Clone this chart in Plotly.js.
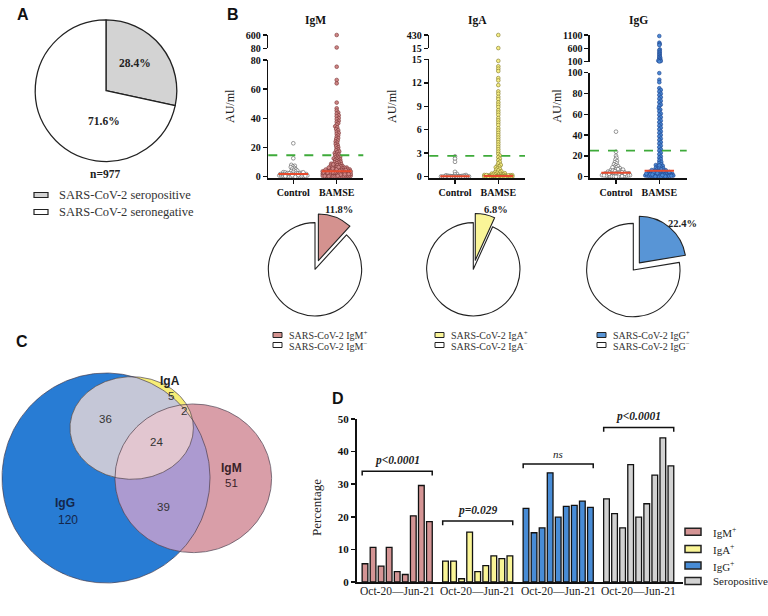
<!DOCTYPE html>
<html><head><meta charset="utf-8">
<script src="https://cdn.plot.ly/plotly-3.0.1.min.js"></script>
<style>html,body{margin:0;padding:0;background:#fff}#chart{width:768px;height:616px}</style>
</head><body><div id="chart"></div>
<script>
// ================= DATA =================
// Panel A
const seroLabels = ['SARS-CoV-2 seropositive', 'SARS-CoV-2 seronegative'];
const seroPct = [28.4, 71.6];
const seroN = 977;

// Panel B
const isotypes = ['IgM', 'IgA', 'IgG'];
const groups = ['Control', 'BAMSE'];
const posPct = [11.8, 6.8, 22.4];
const cutoffs = [14.7, 2.66, 25];
const igmMedian = [1.8, 3.7];
const igaMedian = [0.05, 0.1];
const iggMedian = [3.8, 5.8];

const igmControl = [22.9, 12.6, 8.1, 7.5, 7.0, 6.6, 6.0, 5.5, 5.1, 4.6, 4.2, 3.9, 3.6, 3.3, 3.1, 2.9, 2.7, 2.5, 2.4, 2.2, 2.1, 2.0, 1.9, 1.8, 1.7, 1.6, 1.5, 1.4, 1.3, 1.2, 1.1, 1.0, 0.9, 0.8, 0.8, 0.7, 0.6, 0.5, 0.4, 0.3, 0.3, 0.2, 0.1, 0.1, 0.0, 0.0, 2.3, 1.5, 1.1, 0.6, 3.0, 0.9, 1.8, 0.4];
const igmBamse = [600, 112, 75.4, 66.3, 64.0, 50.8, 46.9, 45.3, 44.0, 43.2, 42.1, 41.4, 40.2, 39.5, 38.3, 37.6, 36.6, 35.7, 34.5, 33.8, 32.6, 31.9, 30.8, 30.0, 29.3, 28.3, 27.4, 26.5, 25.8, 24.8, 24.1, 23.3, 22.4, 21.7, 20.9, 20.2, 19.4, 18.6, 18.1, 17.3, 16.9, 16.2, 15.6, 15.1, 14.8, 14.2, 13.7, 13.4, 13.0, 12.5, 12.2, 11.8, 11.4, 11.0, 10.6, 10.2, 9.9, 9.6, 9.2, 8.9, 8.6, 8.3, 8.0, 7.8, 7.5, 7.2, 7.0, 6.8, 6.5, 6.3, 6.1, 5.9, 5.7, 5.5, 5.3, 5.2, 5.0, 4.8, 4.7, 4.5, 4.4, 4.2, 4.1, 3.9, 3.8, 3.6, 3.5, 3.4, 3.2, 3.1, 3.0, 2.9, 2.8, 2.7, 2.6, 2.5, 2.4, 2.3, 2.2, 2.1, 2.0, 1.9, 1.8, 1.7, 1.6, 1.5, 1.4, 1.3, 1.2, 1.1, 1.0, 0.9, 0.8, 0.7, 0.6, 0.5, 0.4, 0.3, 0.2, 0.1, 6.2, 4.6, 3.3, 2.6, 1.9, 1.2, 0.8, 0.4, 5.1, 3.7, 2.9, 2.2, 1.5, 0.9, 0.3, 4.3, 3.0, 2.4, 1.7, 1.0, 0.6, 0.2, 7.1, 5.6, 4.0, 3.2, 2.0, 1.3, 0.7, 0.1, 8.4, 6.6, 4.9, 3.6, 2.7, 1.8, 1.1, 0.5, 0.0, 0.0, 3.4, 2.5, 1.6, 0.9, 0.3, 2.1, 1.4, 0.6];
const igaControl = [2.6, 2.3, 1.9, 0.62, 0.35, 0.28, 0.22, 0.18, 0.15, 0.12, 0.1, 0.09, 0.07, 0.06, 0.05, 0.05, 0.04, 0.03, 0.03, 0.02, 0.02, 0.01, 0.01, 0.01, 0, 0, 0, 0, 0, 0, 0, 0];
const igaBamse = [430, 22, 14.8, 14.1, 13.8, 13.5, 12.6, 12.3, 11.7, 10.9, 10.6, 10.2, 9.9, 9.5, 9.2, 8.9, 8.5, 8.2, 7.9, 7.5, 7.2, 6.9, 6.6, 6.2, 5.9, 5.6, 5.3, 5.0, 4.7, 4.4, 4.1, 3.8, 3.5, 3.2, 2.9, 2.7, 2.5, 2.3, 2.1, 1.9, 1.7, 1.5, 1.4, 1.3, 1.2, 1.1, 1.0, 0.9, 0.8, 0.7, 0.6, 0.55, 0.5, 0.45, 0.4, 0.36, 0.32, 0.3, 0.27, 0.25, 0.22, 0.2, 0.19, 0.17, 0.15, 0.14, 0.12, 0.11, 0.1, 0.1, 0.09, 0.08, 0.07, 0.06, 0.06, 0.05, 0.05, 0.04, 0.04, 0.03, 0.03, 0.02, 0.02, 0.01, 0.01, 0, 0, 0, 0, 0, 0, 0, 0, 0, 0, 0, 0, 0.13, 0.21, 0.08, 0.16, 0.04, 0.11, 0.07, 0.02];
const iggControl = [43.3, 24.0, 20.1, 18.2, 16.5, 15.1, 14.0, 12.8, 11.9, 11.0, 10.2, 9.5, 8.8, 8.1, 7.6, 7.0, 6.5, 6.1, 5.6, 5.2, 4.9, 4.5, 4.2, 3.9, 3.6, 3.3, 3.0, 2.8, 2.5, 2.3, 2.0, 1.8, 1.6, 1.4, 1.2, 1.0, 0.8, 0.6, 0.4, 0.2, 9.0, 7.3, 5.9, 4.7, 3.8, 3.1, 2.6, 2.1, 1.5, 1.1, 0.7, 0.3, 6.8, 5.4, 4.4, 3.5, 2.7, 1.9, 1.3, 0.5, 0.1, 0.0];
const iggBamse = [1062, 811, 760, 722, 561, 522, 468, 431, 389, 352, 308, 271, 243, 212, 181, 158, 139, 124, 108, 99.6, 93.2, 90.8, 85.1, 83.4, 81.9, 79.8, 78.5, 76.4, 75.0, 72.9, 71.6, 69.3, 68.1, 66.0, 64.5, 62.8, 60.7, 59.4, 57.2, 55.9, 53.8, 52.4, 50.3, 49.1, 47.0, 45.6, 43.5, 42.2, 40.1, 38.8, 36.6, 35.3, 33.2, 31.9, 29.8, 28.4, 26.3, 25.1, 23.0, 21.6, 19.5, 18.3, 16.9, 15.4, 14.2, 13.1, 12.0, 11.2, 10.4, 9.7, 9.0, 8.4, 7.8, 7.2, 6.7, 6.2, 5.8, 5.4, 5.0, 4.6, 4.3, 4.0, 3.7, 3.4, 3.1, 2.8, 2.6, 2.4, 2.2, 2.0, 1.8, 1.6, 1.4, 1.2, 1.0, 0.8, 0.6, 0.4, 0.2, 0.1, 8.8, 7.0, 5.6, 4.5, 3.6, 2.9, 2.3, 1.7, 1.1, 0.5, 6.4, 4.8, 3.9, 3.0, 2.1, 1.3, 0.7, 0.3, 0.0, 0.0, 10.9, 5.2, 3.3, 1.5, 0.9, 0.2];

// Panel C (Venn counts)
const vennNames = ['IgG', 'IgA', 'IgM'];
const vennOnly = [120, 5, 51];
const vennGA = 36, vennAM = 2, vennGM = 39, vennGAM = 24;

// Panel D
const months = ['Oct-20', 'Nov-20', 'Dec-20', 'Jan-21', 'Feb-21', 'Mar-21', 'Apr-21', 'May-21', 'Jun-21'];
const igmPos = [5.6, 10.6, 4.9, 10.6, 3.2, 2.3, 20.3, 29.6, 18.5];
const igaPos = [6.4, 6.4, 1.0, 15.3, 3.2, 5.0, 8.0, 7.2, 8.0];
const iggPos = [22.6, 15.1, 16.6, 33.5, 19.9, 23.2, 23.5, 24.8, 22.9];
const seroPos = [25.5, 21.0, 16.6, 36.0, 19.9, 24.0, 32.8, 44.2, 35.6];
const dNames = ['IgM<sup>+</sup>', 'IgA<sup>+</sup>', 'IgG<sup>+</sup>', 'Seropositive'];
const pLabels = ['p<0.0001', 'p=0.029', 'ns', 'p<0.0001'];
const bracketY = [34.0, 18.7, 36.2, 47.4];

// ================= BUILD =================
const W = 768, H = 616;
const PX = v => v / W, PY = v => 1 - v / H;
const serif = '"Liberation Serif", "Times New Roman", serif';
const sans = '"Liberation Sans", Arial, sans-serif';
const traces = [], shapes = [], annotations = [];
const layout = {
  width: W, height: H, margin: {l: 0, r: 0, t: 0, b: 0},
  paper_bgcolor: '#fff', plot_bgcolor: 'rgba(0,0,0,0)', showlegend: false,
  barmode: 'overlay', font: {family: serif, color: '#111'}
};
function ann(text, x, y, o) {
  annotations.push(Object.assign({text, x: PX(x), y: PY(y), xref: 'paper', yref: 'paper', showarrow: false,
    xanchor: 'center', yanchor: 'middle', font: {family: serif, size: 11, color: '#111'}}, o || {}));
}
function rectPx(x0, y0, x1, y1, fill, lw) {
  shapes.push({type: 'rect', xref: 'paper', yref: 'paper', x0: PX(x0), x1: PX(x1), y0: PY(y1), y1: PY(y0),
    fillcolor: fill, line: {color: '#222', width: lw || 1}});
}
// deterministic beeswarm: horizontal pixel offsets so that markers do not pile up
function swarm(vals, pxPerUnit, minDist, maxHalf) {
  const items = vals.map((v, i) => ({y: v * pxPerUnit, i})).sort((a, b) => a.y - b.y);
  const placed = [], off = new Array(vals.length);
  const cands = [0];
  for (let d = 0.5; d <= maxHalf; d += 0.5) cands.push(d, -d);
  items.forEach(it => {
    let chosen = null, bestC = 0, bestScore = -1;
    for (const c of cands) {
      let minD = Infinity;
      for (const p of placed) {
        const dy = p.y - it.y;
        if (Math.abs(dy) < minDist) { const dd = Math.hypot(p.x - c, dy); if (dd < minD) minD = dd; }
      }
      if (minD >= minDist) { chosen = c; break; }
      if (minD > bestScore) { bestScore = minD; bestC = c; }
    }
    if (chosen === null) chosen = bestC;
    placed.push({x: chosen, y: it.y});
    off[it.i] = chosen;
  });
  return off;
}

// panel letters
const letterFont = {family: sans, size: 16, weight: 'bold', color: '#111'};
ann('A', 23, 15, {font: letterFont});
ann('B', 233, 15, {font: letterFont});
ann('C', 22, 341, {font: letterFont});
ann('D', 338, 398, {font: letterFont});

// ---------- Panel A ----------
traces.push({type: 'pie', values: seroPct, labels: seroLabels, sort: false, direction: 'clockwise', rotation: 0,
  domain: {x: [PX(35.2), PX(176.8)], y: [PY(161.5), PY(19.9)]},
  marker: {colors: ['#d3d3d3', '#ffffff'], line: {color: '#222', width: 1.3}},
  textinfo: 'none', hoverinfo: 'skip', showlegend: false});
const boldSerif = {family: serif, size: 11.5, weight: 'bold', color: '#222'};
ann(seroPct[0].toFixed(1) + '%', 135, 63, {font: boldSerif});
ann(seroPct[1].toFixed(1) + '%', 104, 121, {font: boldSerif});
ann('n=' + seroN, 105, 174, {font: boldSerif});
rectPx(34, 192.5, 48, 197.5, '#d3d3d3', 1.2);
rectPx(34, 209.5, 48, 214.5, '#ffffff', 1.2);
ann(seroLabels[0], 57, 195, {xanchor: 'left', font: {family: serif, size: 12.5, color: '#333'}});
ann(seroLabels[1], 57, 212, {xanchor: 'left', font: {family: serif, size: 12.5, color: '#333'}});

// ---------- Panel B ----------
const panelCfg = [
  {ctrl: igmControl, bam: igmBamse, med: igmMedian, cut: cutoffs[0], xp: [268.3, 293.3, 336.7, 363.3],
   low: [60, 176.7], lowMax: 80, lowTicks: [0, 20, 40, 60, 80], up: [35, 48.3], upRange: [80, 600], upTicks: [80, 600],
   fill: 'rgb(206,134,134)', edge: 'rgb(120,50,50)', ytx: 230, pieC: [315, 269.3], pctAt: [339, 210], legX: 273,
   xa: 'x', ya: ['y', 'y2'], ids: ['xaxis', 'yaxis', 'yaxis2']},
  {ctrl: igaControl, bam: igaBamse, med: igaMedian, cut: cutoffs[1], xp: [429.3, 455, 498.3, 525],
   low: [59.3, 176.7], lowMax: 15, lowTicks: [0, 3, 6, 9, 12, 15], up: [35, 48.3], upRange: [15, 430], upTicks: [15, 430],
   fill: 'rgb(246,238,130)', edge: 'rgb(125,118,40)', ytx: 392, pieC: [473.3, 269.3], pctAt: [495.5, 210], legX: 435,
   xa: 'x2', ya: ['y3', 'y4'], ids: ['xaxis2', 'yaxis3', 'yaxis4']},
  {ctrl: iggControl, bam: iggBamse, med: iggMedian, cut: cutoffs[2], xp: [590, 616, 659.3, 686.7],
   low: [72.7, 176.7], lowMax: 100, lowTicks: [0, 20, 40, 60, 80, 100], up: [35, 61.7], upRange: [100, 1100], upTicks: [100, 600, 1100],
   fill: 'rgb(74,136,212)', edge: 'rgb(28,66,140)', ytx: 556.7, pieC: [633.3, 270], pctAt: [682.5, 223.3], legX: 597,
   xa: 'x3', ya: ['y5', 'y6'], ids: ['xaxis3', 'yaxis5', 'yaxis6']}
];
const pieColors = ['rgb(212,146,143)', 'rgb(250,245,152)', 'rgb(88,149,214)'];
const axisBase = {showgrid: false, zeroline: false, showline: true, linecolor: '#111', linewidth: 1.6,
  ticks: 'outside', ticklen: 4, tickwidth: 1.5, tickcolor: '#111',
  tickfont: {family: serif, size: 10, weight: 'bold', color: '#111'}, fixedrange: true};

panelCfg.forEach((p, k) => {
  const sp = p.xp[2] - p.xp[1];
  const ppu = (p.low[1] - p.low[0]) / p.lowMax;
  const ppuUp = (p.up[1] - p.up[0]) / (p.upRange[1] - p.upRange[0]);
  const pad = 1.5;
  layout[p.ids[0]] = Object.assign({}, axisBase, {type: 'linear', anchor: p.ya[0],
    domain: [PX(p.xp[0]), PX(p.xp[3])], range: [(p.xp[0] - p.xp[1]) / sp, (p.xp[3] - p.xp[1]) / sp],
    tickvals: [0, 1], ticktext: groups});
  layout[p.ids[1]] = Object.assign({}, axisBase, {anchor: p.xa, domain: [PY(p.low[1] + pad), PY(p.low[0])],
    range: [-pad / ppu, p.lowMax], tickvals: p.lowTicks});
  layout[p.ids[2]] = Object.assign({}, axisBase, {anchor: p.xa, domain: [PY(p.up[1]), PY(p.up[0])],
    range: p.upRange, tickvals: p.upTicks});
  [p.ctrl, p.bam].forEach((vals, gi) => {
    const isCtrl = gi === 0;
    const lowVals = vals.filter(v => v <= p.lowMax);
    const upVals = vals.filter(v => v > p.lowMax);
    const mk = {size: 3.7, color: isCtrl ? '#ffffff' : p.fill, line: {color: isCtrl ? '#555' : p.edge, width: 0.6}};
    const offLow = swarm(lowVals, ppu, 1.9, 14);
    traces.push({type: 'scatter', mode: 'markers', x: lowVals.map((v, i) => gi + offLow[i] / sp), y: lowVals, marker: mk,
      cliponaxis: false, hoverinfo: 'skip', showlegend: false, xaxis: p.xa, yaxis: p.ya[0]});
    if (upVals.length) {
      const offUp = swarm(upVals, ppuUp, 1.1, 1.5);
      traces.push({type: 'scatter', mode: 'markers', x: upVals.map((v, i) => gi + offUp[i] / sp), y: upVals, marker: mk,
        cliponaxis: false, hoverinfo: 'skip', showlegend: false, xaxis: p.xa, yaxis: p.ya[1]});
    }
    traces.push({type: 'scatter', mode: 'lines', x: [gi - 0.34, gi + 0.34], y: [p.med[gi], p.med[gi]],
      line: {color: 'rgb(232,74,44)', width: 2}, cliponaxis: false, hoverinfo: 'skip', showlegend: false, xaxis: p.xa, yaxis: p.ya[0]});
  });
  shapes.push({type: 'line', xref: p.xa + ' domain', x0: 0, x1: 1, yref: p.ya[0], y0: p.cut, y1: p.cut,
    line: {color: 'rgb(62,170,58)', width: 1.8, dash: 'dash'}});
  ann(isotypes[k], (p.xp[1] + p.xp[2]) / 2 + 0.5, 21, {font: {family: serif, size: 11.5, weight: 'bold', color: '#111'}});
  ann('AU/ml', p.ytx, 106, {textangle: -90, font: {family: serif, size: 12, color: '#222'}});
  const R = 56;
  traces.push({type: 'pie', values: [posPct[k], +(100 - posPct[k]).toFixed(1)],
    labels: ['SARS-CoV-2 ' + isotypes[k] + '+', 'SARS-CoV-2 ' + isotypes[k] + '-'],
    sort: false, direction: 'clockwise', rotation: 0, pull: [0.2, 0],
    domain: {x: [PX(p.pieC[0] - R), PX(p.pieC[0] + R)], y: [PY(p.pieC[1] + R), PY(p.pieC[1] - R)]},
    marker: {colors: [pieColors[k], '#ffffff'], line: {color: '#222', width: 1.1}},
    textinfo: 'none', hoverinfo: 'skip', showlegend: false});
  ann(posPct[k].toFixed(1) + '%', p.pctAt[0], p.pctAt[1], {font: {family: serif, size: 10.5, weight: 'bold', color: '#222'}});
  rectPx(p.legX, 332.5, p.legX + 9, 337.5, pieColors[k], 1);
  rectPx(p.legX, 342.5, p.legX + 9, 347.5, '#ffffff', 1);
  ann('SARS-CoV-2 ' + isotypes[k] + '<sup>+</sup>', p.legX + 14, 335, {xanchor: 'left', font: {family: serif, size: 10, color: '#333'}});
  ann('SARS-CoV-2 ' + isotypes[k] + '<sup>−</sup>', p.legX + 14, 345.5, {xanchor: 'left', font: {family: serif, size: 10, color: '#333'}});
});

// ---------- Panel C (Venn) ----------
layout.xaxis5 = {domain: [0, PX(290)], range: [0, 290], visible: false, fixedrange: true, anchor: 'y8'};
layout.yaxis8 = {domain: [PY(600), PY(335)], range: [600, 335], visible: false, fixedrange: true, anchor: 'x5'};
const E = [ // IgG, IgA, IgM  (schematic geometry, pixels)
  {cx: 106, cy: 478, rx: 104, ry: 105},
  {cx: 131.7, cy: 428, rx: 61.7, ry: 51.3},
  {cx: 193.3, cy: 478.3, rx: 78.3, ry: 74.3}
];
function ellPts(e, n) { const a = []; for (let i = 0; i < n; i++) { const t = 2 * Math.PI * i / n; a.push([e.cx + e.rx * Math.cos(t), e.cy + e.ry * Math.sin(t)]); } return a; }
function inside(pt, e) { const dx = (pt[0] - e.cx) / e.rx, dy = (pt[1] - e.cy) / e.ry; return dx * dx + dy * dy <= 1.00001; }
function region(ids) {
  let pts = [];
  ids.forEach(i => ellPts(E[i], 1440).forEach(pt => { if (ids.every(j => j === i || inside(pt, E[j]))) pts.push(pt); }));
  const mx = pts.reduce((s, q) => s + q[0], 0) / pts.length, my = pts.reduce((s, q) => s + q[1], 0) / pts.length;
  pts.sort((a, b) => Math.atan2(a[1] - my, a[0] - mx) - Math.atan2(b[1] - my, b[0] - mx));
  return pts;
}
function fillReg(ids, color) {
  const pts = region(ids);
  traces.push({type: 'scatter', mode: 'lines', x: pts.map(q => q[0]).concat([pts[0][0]]), y: pts.map(q => q[1]).concat([pts[0][1]]),
    fill: 'toself', fillcolor: color, line: {width: 0, color: color}, hoverinfo: 'skip', showlegend: false, xaxis: 'x5', yaxis: 'y8'});
}
fillReg([0], 'rgb(40,124,212)');
fillReg([2], 'rgb(217,158,168)');
fillReg([1], 'rgb(247,238,118)');
fillReg([0, 1], 'rgb(197,199,215)');
fillReg([0, 2], 'rgb(172,154,208)');
fillReg([1, 2], 'rgb(238,204,162)');
fillReg([0, 1, 2], 'rgb(226,198,208)');
E.forEach(e => {
  const pts = ellPts(e, 360);
  traces.push({type: 'scatter', mode: 'lines', x: pts.map(q => q[0]).concat([pts[0][0]]), y: pts.map(q => q[1]).concat([pts[0][1]]),
    line: {width: 0.8, color: 'rgba(70,60,75,0.85)'}, hoverinfo: 'skip', showlegend: false, xaxis: 'x5', yaxis: 'y8'});
});
function vtxt(t, x, y, o) {
  annotations.push(Object.assign({text: String(t), x, y, xref: 'x5', yref: 'y8', showarrow: false, borderpad: 0,
    font: {family: sans, size: 11.5, color: '#333'}}, o || {}));
}
vtxt(vennNames[0], 65, 511, {yanchor: 'bottom', font: {family: sans, size: 12, weight: 'bold', color: '#14264a'}});
vtxt(vennOnly[0], 68.3, 512, {yanchor: 'top', font: {family: sans, size: 12, color: '#14264a'}});
vtxt(vennNames[1], 170, 389.5, {yanchor: 'bottom', font: {family: sans, size: 12, weight: 'bold', color: '#222'}});
vtxt(vennOnly[1], 171, 389.5, {yanchor: 'top'});
vtxt(vennNames[2], 231.7, 476, {yanchor: 'bottom', font: {family: sans, size: 12, weight: 'bold', color: '#3a2228'}});
vtxt(vennOnly[2], 231.7, 476.5, {yanchor: 'top', font: {family: sans, size: 11.5, color: '#3a2228'}});
vtxt(vennGA, 105, 419.3); vtxt(vennAM, 184.3, 410.7); vtxt(vennGM, 163, 506.7); vtxt(vennGAM, 156.7, 441.7);

// ---------- Panel D ----------
const slotPx0 = 365, slotW = 8.05;
layout.xaxis4 = {domain: [PX(356.7), PX(683.3)], range: [(356.7 - slotPx0) / slotW, (683.3 - slotPx0) / slotW],
  showgrid: false, zeroline: false, showline: true, linecolor: '#111', linewidth: 1.8, ticks: '', showticklabels: false,
  anchor: 'y7', fixedrange: true, type: 'linear'};
const dPxPerUnit = (582 - 419) / 50;
layout.yaxis7 = Object.assign({}, axisBase, {domain: [PY(582), PY(419)], range: [0, 50], dtick: 10, anchor: 'x4',
  linewidth: 1.8, tickfont: {family: serif, size: 11, weight: 'bold', color: '#111'}});
ann('Percentage', 316, 508, {textangle: -90, font: {family: serif, size: 13, color: '#222'}});
const dSeries = [igmPos, igaPos, iggPos, seroPos];
const dColors = ['rgb(212,148,148)', 'rgb(250,245,150)', 'rgb(72,140,214)', 'rgb(210,210,210)'];
const G = months.length + 1;
const arrowY = -(612 - 582) / dPxPerUnit;
dSeries.forEach((vals, g) => {
  traces.push({type: 'bar', x: vals.map((_, i) => g * G + i), y: vals, width: 0.71, name: dNames[g],
    marker: {color: dColors[g], line: {color: '#111', width: 1.3}}, hoverinfo: 'skip', showlegend: false, xaxis: 'x4', yaxis: 'y7'});
  const c = g * G + (months.length - 1) / 2;
  const by = bracketY[g];
  shapes.push({type: 'path', xref: 'x4', yref: 'y7', line: {color: '#111', width: 1.5},
    path: `M ${c - 4.35},${by - 1.3} L ${c - 4.35},${by} L ${c + 4.35},${by} L ${c + 4.35},${by - 1.3}`});
  const isNs = pLabels[g] === 'ns';
  annotations.push({text: pLabels[g], x: c, y: by + 0.7, xref: 'x4', yref: 'y7', showarrow: false, yanchor: 'bottom',
    font: {family: serif, size: isNs ? 11 : 11.5, weight: isNs ? 'normal' : 'bold', style: 'italic', color: '#222'}});
  annotations.push({text: months[0] + '—' + months[months.length - 1], x: c, y: PY(599), xref: 'x4', yref: 'paper',
    showarrow: false, font: {family: serif, size: 11.5, color: '#222'}});
  traces.push({type: 'scatter', mode: 'lines+markers', x: [c - 4.0, c + 4.0], y: [arrowY, arrowY],
    line: {color: '#111', width: 1.6}, marker: {symbol: ['triangle-left', 'triangle-right'], size: 9, color: '#111'},
    cliponaxis: false, hoverinfo: 'skip', showlegend: false, xaxis: 'x4', yaxis: 'y7'});
  const ly = [531.7, 549, 565.5, 581][g];
  rectPx(685, ly - 3.5, 701, ly + 3.5, dColors[g], 1.5);
  ann(dNames[g], 711, ly, {xanchor: 'left', font: {family: serif, size: 11, color: '#222'}});
});

layout.shapes = shapes;
layout.annotations = annotations;
Plotly.newPlot('chart', traces, layout, {displayModeBar: false, staticPlot: true});
</script>
</body></html>
